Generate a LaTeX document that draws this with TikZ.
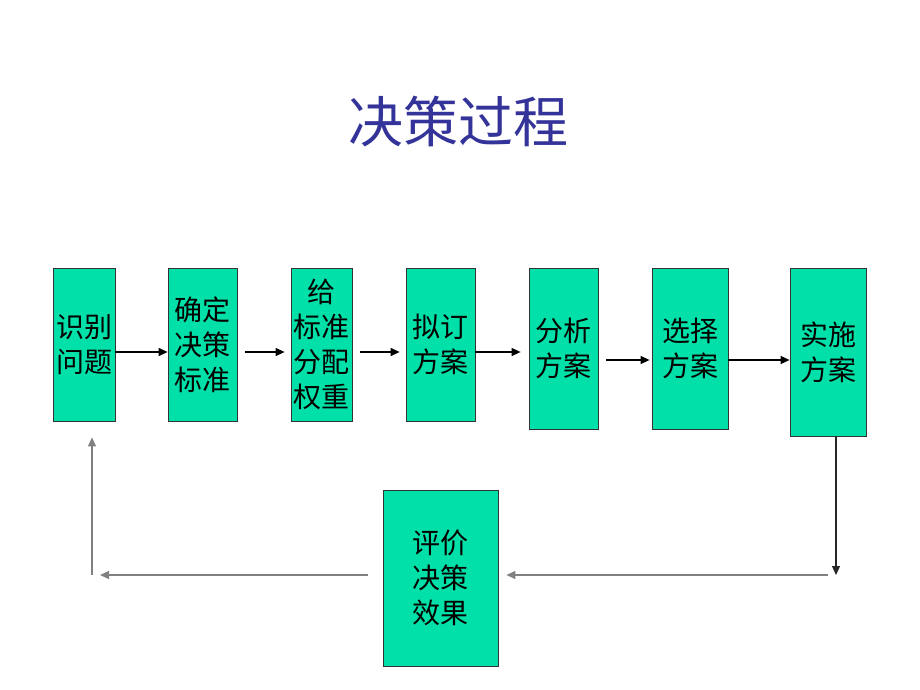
\documentclass[tikz,border=0pt]{standalone}
\usepackage{fontspec}
\newfontfamily\cjk{Noto Sans CJK SC}
\usetikzlibrary{arrows.meta}
\definecolor{boxfill}{HTML}{00E0A8}
\definecolor{titleblue}{HTML}{333399}
\tikzset{
  stepbox/.style={draw=black!80, line width=0.8pt, fill=boxfill, inner sep=0pt,
    font=\cjk\fontsize{28}{35}\selectfont, align=center, text=black},
  arr/.style={line width=1.2pt, -{Triangle[length=9pt,width=8pt]}},
  garr/.style={arr, draw=black!50},
}
\begin{document}
\begin{tikzpicture}[x=1pt,y=-1pt]
\useasboundingbox (0,0) rectangle (920,690);
\node[font=\cjk\fontsize{55}{60}\selectfont, text=titleblue] (title) at (458,122) {决策过程};
\node[stepbox, minimum width=62, minimum height=153] (b1) at (84,344.5) {识别\\问题};
\node[stepbox, minimum width=69, minimum height=153] (b2) at (202.5,344.5) {确定\\决策\\标准};
\node[stepbox, minimum width=61, minimum height=153] (b3) at (321.5,344.5) {给\\标准\\分配\\权重};
\node[stepbox, minimum width=69, minimum height=153] (b4) at (440.5,344.5) {拟订\\方案};
\node[stepbox, minimum width=69, minimum height=161] (b5) at (563.5,348.5) {分析\\方案};
\node[stepbox, minimum width=76, minimum height=161] (b6) at (690,348.5) {选择\\方案};
\node[stepbox, minimum width=76, minimum height=168] (b7) at (828,352) {实施\\方案};
\node[stepbox, minimum width=115, minimum height=176] (b8) at (440.5,578) {评价\\决策\\效果};
\coordinate (rc) at (836,575);
\coordinate (lc) at (92,575);
\draw[arr] ([yshift=-7.5pt]b1.east) -- ([yshift=-7.5pt]b1.east -| b2.west);
\draw[arr, shorten <=8pt, shorten >=6pt] ([yshift=-7.5pt]b2.east) -- ([yshift=-7.5pt]b2.east -| b3.west);
\draw[arr, shorten <=8pt, shorten >=6pt] ([yshift=-7.5pt]b3.east) -- ([yshift=-7.5pt]b3.east -| b4.west);
\draw[arr, shorten >=8pt] ([yshift=-7.5pt]b4.east) -- ([yshift=-7.5pt]b4.east -| b5.west);
\draw[arr, shorten <=8pt, shorten >=2pt] ([yshift=-11.5pt]b5.east) -- ([yshift=-11.5pt]b5.east -| b6.west);
\draw[arr] ([yshift=-11.5pt]b6.east) -- ([yshift=-11.5pt]b6.east -| b7.west);
\draw[arr, draw=black!85] (b7.south -| rc) -- (rc);
\draw[garr, shorten <=8pt, shorten >=8pt] (rc) -- (rc -| b8.east);
\draw[garr, shorten <=15pt, shorten >=8pt] (rc -| b8.west) -- (lc);
\draw[garr, shorten >=16pt] (lc) -- (lc |- b1.south);
\end{tikzpicture}
\end{document}
